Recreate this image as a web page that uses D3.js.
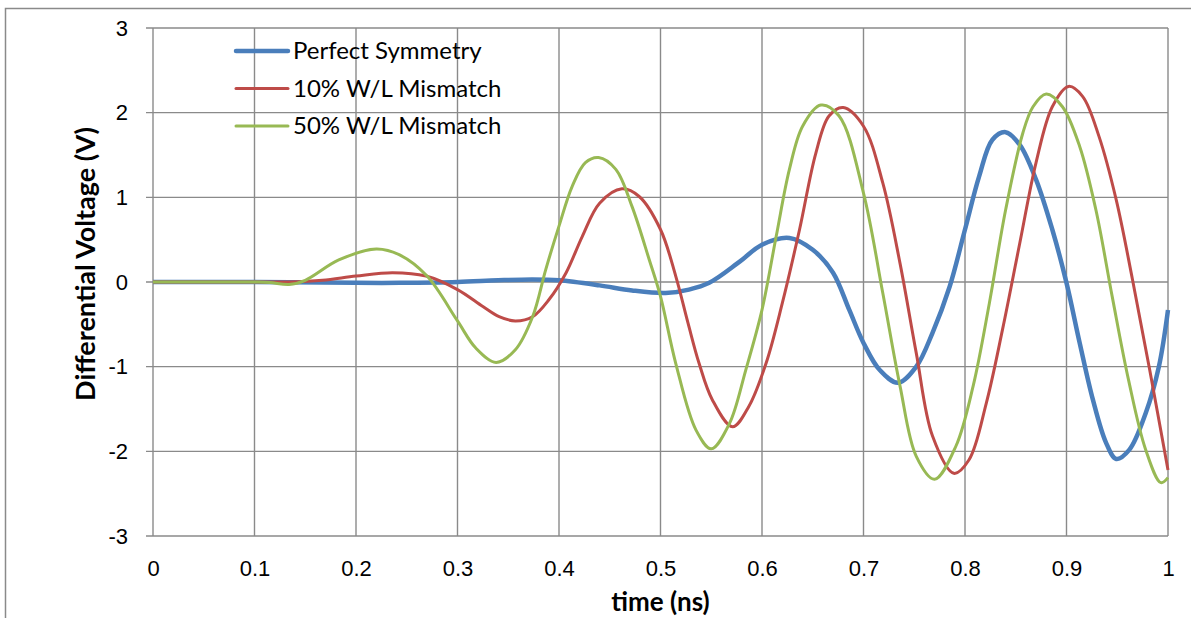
<!DOCTYPE html>
<html>
<head>
<meta charset="utf-8">
<script src="https://cdn.jsdelivr.net/npm/d3@7"></script>
<style>
  body { margin: 0; background: #fff; }
  svg { display: block; font-family: Lato, "Open Sans", sans-serif; }
  .grid line { stroke: #8a8a8a; stroke-width: 1.4; }
  .tick text { fill: #000; }
</style>
</head>
<body>
<div id="chart"></div>
<script>
// series names and colours
var seriesNames = ["Perfect Symmetry", "10% W/L Mismatch", "50% W/L Mismatch"];
var seriesColors = ["#4a7ebb", "#be4b48", "#98b954"];

// axis tick labels
var xTicks = [0, 0.1, 0.2, 0.3, 0.4, 0.5, 0.6, 0.7, 0.8, 0.9, 1];
var yTicks = [-3, -2, -1, 0, 1, 2, 3];

// Perfect Symmetry (time ns, volts)
var blueT = [0, 0.1, 0.2, 0.243, 0.30, 0.34, 0.374, 0.40, 0.44, 0.472, 0.505, 0.528, 0.548, 0.578, 0.60,
             0.627, 0.65, 0.67, 0.686, 0.70, 0.716, 0.734, 0.752, 0.768, 0.785, 0.80, 0.814, 0.827, 0.840,
             0.854, 0.87, 0.886, 0.90, 0.913, 0.926, 0.939, 0.949, 0.962, 0.978, 0.991, 1.0];
var blueV = [0, 0, -0.01, -0.01, 0, 0.02, 0.03, 0.02, -0.04, -0.10, -0.13, -0.09, -0.01, 0.24, 0.44,
             0.52, 0.38, 0.11, -0.33, -0.72, -1.04, -1.19, -1.0, -0.60, -0.05, 0.62, 1.25, 1.68, 1.77,
             1.62, 1.21, 0.62, -0.01, -0.72, -1.39, -1.90, -2.09, -1.98, -1.55, -1.0, -0.33];

// 10% W/L Mismatch
var redT = [0, 0.1, 0.134, 0.167, 0.2, 0.236, 0.269, 0.30, 0.325, 0.341, 0.357, 0.374, 0.39, 0.407, 0.423,
            0.44, 0.462, 0.479, 0.50, 0.515, 0.527, 0.538, 0.551, 0.571, 0.587, 0.604, 0.62, 0.637, 0.653,
            0.666, 0.68, 0.70, 0.719, 0.736, 0.752, 0.768, 0.789, 0.804, 0.821, 0.837, 0.854, 0.87, 0.886,
            0.902, 0.916, 0.932, 0.949, 0.965, 0.982, 1.0];
var redV = [0, 0, 0, 0.02, 0.07, 0.11, 0.07, -0.09, -0.29, -0.41, -0.46, -0.41, -0.21, 0.11, 0.54,
            0.93, 1.10, 1.01, 0.62, 0.07, -0.48, -0.96, -1.39, -1.71, -1.47, -0.96, -0.25, 0.62, 1.52,
            1.96, 2.06, 1.84, 1.17, 0.22, -0.84, -1.82, -2.26, -2.10, -1.43, -0.56, 0.46, 1.41, 2.07,
            2.31, 2.19, 1.72, 0.97, 0.03, -1.04, -2.22];

// 50% W/L Mismatch
var greenT = [0, 0.1, 0.115, 0.134, 0.15, 0.183, 0.22, 0.243, 0.27, 0.30, 0.318, 0.338, 0.357, 0.374,
              0.387, 0.40, 0.413, 0.426, 0.439, 0.456, 0.472, 0.489, 0.50, 0.515, 0.535, 0.55, 0.568,
              0.584, 0.60, 0.614, 0.627, 0.64, 0.658, 0.676, 0.70, 0.719, 0.736, 0.752, 0.77, 0.791,
              0.808, 0.824, 0.84, 0.857, 0.867, 0.88, 0.896, 0.913, 0.929, 0.945, 0.961, 0.978, 0.993, 1.0];
var greenV = [0, 0, -0.005, -0.03, 0.02, 0.26, 0.39, 0.32, 0.07, -0.46, -0.78, -0.95, -0.80, -0.41,
              0.15, 0.66, 1.13, 1.41, 1.47, 1.33, 0.89, 0.26, -0.17, -0.96, -1.75, -1.97, -1.67,
              -1.04, -0.33, 0.54, 1.33, 1.84, 2.09, 1.96, 1.05, -0.13, -1.23, -2.06, -2.33, -1.94,
              -1.23, -0.25, 0.85, 1.76, 2.07, 2.22, 2.07, 1.60, 0.85, -0.17, -1.15, -1.98, -2.37, -2.31];

var seriesT = [blueT, redT, greenT];
var seriesV = [blueV, redV, greenV];
var seriesWidth = [4.5, 3, 3];

var W = 1191, H = 618;
var margin = { top: 28, right: 23, bottom: 82, left: 153 };

var svg = d3.select("#chart").append("svg")
    .attr("width", W)
    .attr("height", H);

// outer chart frame (only top and left edge in view)
svg.append("path")
    .attr("d", "M5.5," + H + "V8.5H" + W)
    .attr("fill", "none")
    .attr("stroke", "#8a8a8a")
    .attr("stroke-width", 1.5);

var x = d3.scaleLinear().domain([0, 1]).range([margin.left, W - margin.right]);
var y = d3.scaleLinear().domain([-3, 3]).range([H - margin.bottom, margin.top]);

// gridlines
var grid = svg.append("g").attr("class", "grid");
grid.selectAll(".vg").data(xTicks).enter().append("line")
    .attr("x1", d => x(d)).attr("x2", d => x(d))
    .attr("y1", y(-3)).attr("y2", y(3));
grid.selectAll(".hg").data(yTicks).enter().append("line")
    .attr("x1", x(0) - 7).attr("x2", x(1))
    .attr("y1", d => y(d)).attr("y2", d => y(d));

// plain hyphen for negatives, like the original
var fmt = d => String(d);

// axes (labels only, the lines come from the grid)
var yAxis = d3.axisLeft(y).tickValues(yTicks).tickSize(0).tickPadding(25)
    .tickFormat(fmt);
svg.append("g")
    .attr("transform", "translate(" + x(0) + ",0)")
    .call(yAxis)
    .call(g => g.select(".domain").remove())
    .selectAll("text").style("font-size", "22px");

var xAxis = d3.axisBottom(x).tickValues(xTicks).tickSize(0).tickPadding(24)
    .tickFormat(fmt);
svg.append("g")
    .attr("transform", "translate(0," + y(-3) + ")")
    .call(xAxis)
    .call(g => g.select(".domain").remove())
    .selectAll("text").style("font-size", "22px");

// lines
var line = d3.line()
    .x(d => x(d[0]))
    .y(d => y(d[1]))
    .curve(d3.curveCatmullRom.alpha(0.5));

seriesT.forEach(function(ts, i) {
    var pts = ts.map((t, j) => [t, seriesV[i][j]]);
    svg.append("path")
        .datum(pts)
        .attr("fill", "none")
        .attr("stroke", seriesColors[i])
        .attr("stroke-width", seriesWidth[i])
        .attr("stroke-linejoin", "round")
        .attr("d", line);
});

// legend
var legend = svg.append("g").attr("transform", "translate(236,51)");
seriesNames.forEach(function(name, i) {
    var row = legend.append("g").attr("transform", "translate(0," + (i * 37.5) + ")");
    row.append("line")
        .attr("x1", 0).attr("x2", 52)
        .attr("stroke", seriesColors[i])
        .attr("stroke-width", seriesWidth[i])
        .attr("stroke-linecap", "round");
    row.append("text")
        .attr("x", 57).attr("dy", "0.35em")
        .style("font-size", "24px")
        .text(name);
});

// axis titles
svg.append("text")
    .attr("x", (x(0) + x(1)) / 2)
    .attr("y", 611)
    .attr("text-anchor", "middle")
    .style("font-size", "26px")
    .style("font-weight", "bold")
    .text("time (ns)");

svg.append("text")
    .attr("transform", "rotate(-90)")
    .attr("x", -(y(3) + y(-3)) / 2 + 18)
    .attr("y", 95)
    .attr("text-anchor", "middle")
    .style("font-size", "27px")
    .style("font-weight", "bold")
    .text("Differential Voltage (V)");
</script>
</body>
</html>
